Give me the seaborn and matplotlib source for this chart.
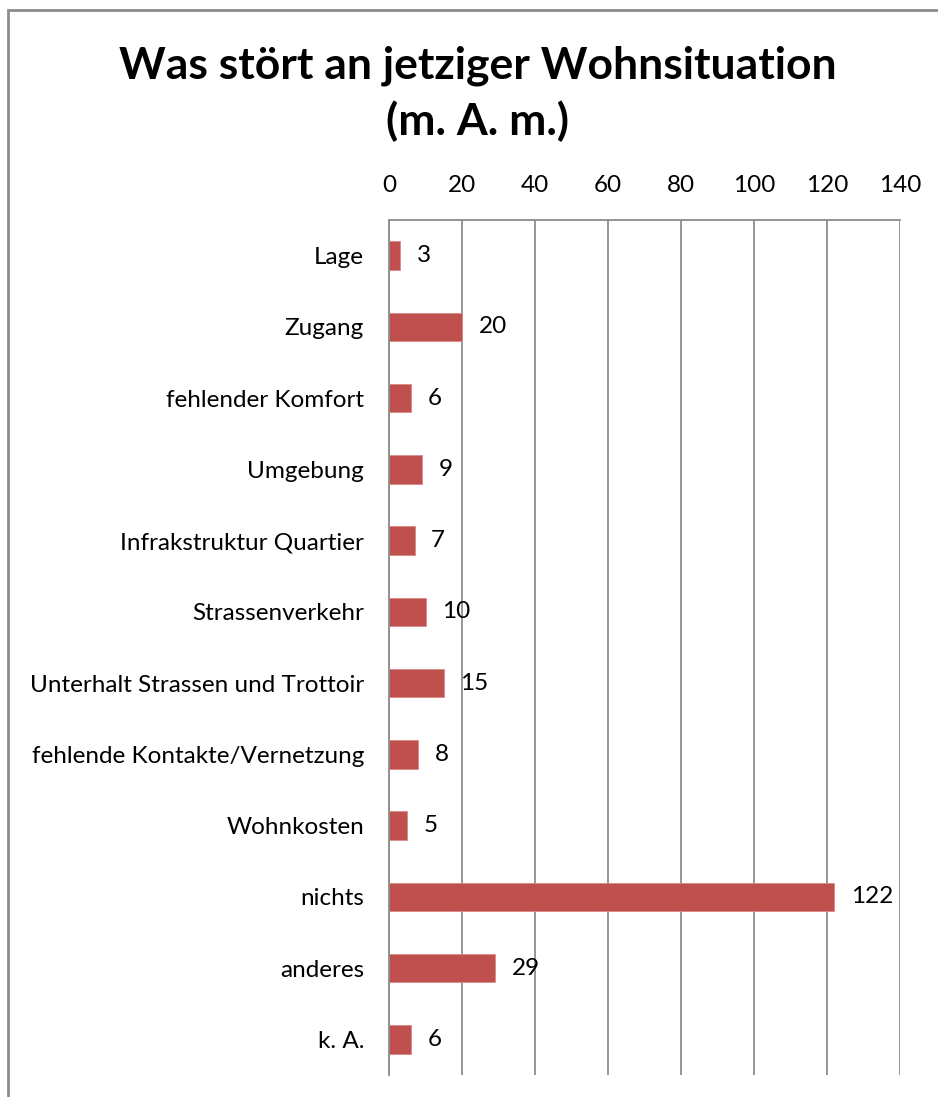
import matplotlib
matplotlib.use("Agg")
import matplotlib.pyplot as plt
from matplotlib.patches import Rectangle
import seaborn as sns
import pandas as pd

categories = [
    "Lage",
    "Zugang",
    "fehlender Komfort",
    "Umgebung",
    "Infrakstruktur Quartier",
    "Strassenverkehr",
    "Unterhalt Strassen und Trottoir",
    "fehlende Kontakte/Vernetzung",
    "Wohnkosten",
    "nichts",
    "anderes",
    "k. A.",
]
counts = [3, 20, 6, 9, 7, 10, 15, 8, 5, 122, 29, 6]
x_ticks = [0, 20, 40, 60, 80, 100, 120, 140]
title = "Was stört an jetziger Wohnsituation\n(m. A. m.)"

df = pd.DataFrame({"Kategorie": categories, "Anzahl": counts})

sns.set_theme(style="white")
plt.rcParams["font.family"] = ["Lato", "DejaVu Sans"]
plt.rcParams["text.color"] = "black"

W, H, DPI = 938, 1097, 100
fig = plt.figure(figsize=(W / DPI, H / DPI), dpi=DPI)
fig.patch.set_facecolor("white")

# plot area in pixel terms: left 389, right 900, top 220, bottom 1075
ax = fig.add_axes([389 / W, 1 - 1075 / H, (900 - 389) / W, (1075 - 220) / H])

bar_color = "#C0504D"
sns.barplot(data=df, x="Anzahl", y="Kategorie", orient="h", color=bar_color,
            width=0.4, saturation=1, ax=ax, edgecolor="#D88A88", linewidth=0.6)

label_size = 17.5
ax.set_xlim(0, 140)
ax.set_ylim(len(categories) - 0.5, -0.5)
ax.set_xticks(x_ticks)
ax.xaxis.tick_top()
ax.tick_params(axis="x", length=0, pad=17, labelsize=label_size, colors="black")
ax.tick_params(axis="y", length=0, pad=18, labelsize=label_size, colors="black")
ax.set_xlabel("")
ax.set_ylabel("")

grid_color = "#8C8C8C"
ax.grid(axis="x", color=grid_color, linewidth=1.3)
ax.grid(axis="y", visible=False)
ax.set_axisbelow(True)
for side in ["left", "top"]:
    ax.spines[side].set_visible(True)
    ax.spines[side].set_color(grid_color)
    ax.spines[side].set_linewidth(1.3)
ax.spines["right"].set_visible(False)
ax.spines["bottom"].set_visible(False)

for container in ax.containers:
    ax.bar_label(container, fmt="%d", padding=12, fontsize=label_size, color="black")

fig.text(478 / W, 1 - 94 / H, title, ha="center", va="center", color="black",
         fontsize=32, fontweight="bold", linespacing=1.42)

# outer chart frame
fig.add_artist(Rectangle((8 / W, -0.2), 1.2, 1.2 + (1 - 10 / H) - 1,
                         transform=fig.transFigure, fill=False,
                         edgecolor="#8C8C8C", linewidth=2))

fig.savefig("out.png", dpi=DPI, facecolor="white")
